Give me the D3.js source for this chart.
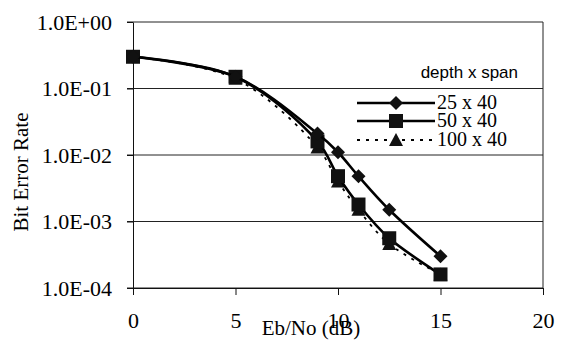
<!DOCTYPE html>
<html>
<head>
<meta charset="utf-8">
<script src="https://cdn.jsdelivr.net/npm/d3@7"></script>
<style>
  body { margin: 0; background: #fff; }
  svg { display: block; }
  .grid line { stroke: #222; stroke-width: 1; }
  .axis path, .axis line { stroke: #111; }
</style>
</head>
<body>
<div id="display"></div>
<script>

// Eb/No (dB) values where points were measured
var ebno = [0, 5, 9, 10, 11, 12.5, 15];
// bit error rate, one array per interleaver size
var ber25 = [0.30, 0.15, 0.021, 0.011, 0.0048, 0.0015, 0.0003];
var ber50 = [0.30, 0.15, 0.016, 0.0048, 0.0018, 0.00056, 0.00016];
var ber100 = [0.30, 0.14, 0.013, 0.0040, 0.0015, 0.00046, 0.00016];
var seriesNames = ['25 x 40', '50 x 40', '100 x 40'];
var xTicks = [0, 5, 10, 15, 20];
var yTicks = [1, 1e-1, 1e-2, 1e-3, 1e-4];

var SERIF = '"Liberation Serif", "Times New Roman", serif';

var width = 567,
    height = 348,
    plotLeft = 133,
    plotRight = 543,
    plotTop = 22,
    plotBottom = 288;

var svg = d3.select('#display')
    .append('svg')
    .attr('width', width)
    .attr('height', height);

var x = d3.scaleLinear().domain([0, 20]).range([plotLeft, plotRight]);
var y = d3.scaleLog().domain([1e-4, 1]).range([plotBottom, plotTop]);

function sci(d) {
  var e = Math.round(Math.log10(d));
  return '1.0E' + (e < 0 ? '-' : '+') + String(Math.abs(e)).padStart(2, '0');
}

// gridlines
svg.append('g').classed('grid', true)
  .selectAll('line')
  .data(yTicks)
  .enter()
  .append('line')
    .attr('x1', plotLeft - 6)
    .attr('x2', plotRight)
    .attr('y1', function (d) { return y(d); })
    .attr('y2', function (d) { return y(d); });

// right border
svg.append('line')
    .attr('x1', plotRight).attr('x2', plotRight)
    .attr('y1', plotTop).attr('y2', plotBottom)
    .attr('stroke', '#222');

svg.append('g').classed('axis', true)
    .attr('transform', 'translate(0,' + plotBottom + ')')
    .call(d3.axisBottom(x).tickValues(xTicks).tickSize(7).tickSizeOuter(0).tickPadding(17));

svg.append('g').classed('axis', true)
    .attr('transform', 'translate(' + plotLeft + ',0)')
    .call(d3.axisLeft(y).tickValues(yTicks).tickFormat(sci).tickSize(6).tickSizeOuter(0).tickPadding(15));

svg.selectAll('.axis .tick text')
    .style('font-family', SERIF)
    .style('font-size', '22px')
    .attr('fill', '#000');

svg.append('text')
    .attr('x', 311)
    .attr('y', 335)
    .attr('text-anchor', 'middle')
    .style('font-family', SERIF)
    .style('font-size', '21px')
    .text('Eb/No (dB)');

svg.append('text')
    .attr('transform', 'translate(28,172) rotate(-90)')
    .attr('text-anchor', 'middle')
    .style('font-family', SERIF)
    .style('font-size', '21px')
    .text('Bit Error Rate');

var symbols = {
  diamond: 'M0,-7L7,0L0,7L-7,0Z',
  square: 'M-7,-7H7V7H-7Z',
  triangle: 'M0,-7L7,6L-7,6Z'
};

var series = [
  { name: seriesNames[0], values: ber25, symbol: 'diamond', dash: null, width: 2.6 },
  { name: seriesNames[1], values: ber50, symbol: 'square', dash: null, width: 2.6 },
  { name: seriesNames[2], values: ber100, symbol: 'triangle', dash: '3,6', width: 1.8 }
];

var line = d3.line()
    .x(function (d) { return x(d[0]); })
    .y(function (d) { return y(d[1]); })
    .curve(d3.curveCatmullRom.alpha(0.5));

var plots = svg.append('g')
  .selectAll('g')
  .data(series.slice().reverse())
  .enter()
  .append('g');

plots.append('path')
    .attr('fill', 'none')
    .attr('stroke', '#000')
    .attr('stroke-width', function (d) { return d.width; })
    .attr('stroke-dasharray', function (d) { return d.dash; })
    .attr('d', function (d) { return line(d3.zip(ebno, d.values)); });

plots.selectAll('path.mark')
  .data(function (d) {
    return d.values.map(function (v, i) { return { x: ebno[i], y: v, symbol: d.symbol }; });
  })
  .enter()
  .append('path')
    .classed('mark', true)
    .attr('fill', '#111')
    .attr('transform', function (d) { return 'translate(' + x(d.x) + ',' + y(d.y) + ')'; })
    .attr('d', function (d) { return symbols[d.symbol]; });

// legend
var legend = svg.append('g');
legend.append('text')
    .attr('x', 518)
    .attr('y', 78)
    .attr('text-anchor', 'end')
    .style('font-family', '"Liberation Sans", Arial, sans-serif')
    .style('font-size', '17px')
    .text('depth x span');

var items = legend.selectAll('g')
    .data(series)
    .enter()
    .append('g')
    .attr('transform', function (d, i) { return 'translate(0,' + [103, 121, 140][i] + ')'; });
items.append('line')
    .attr('x1', 357).attr('x2', 435)
    .attr('stroke', '#000')
    .attr('stroke-width', function (d) { return d.width; })
    .attr('stroke-dasharray', function (d) { return d.dash; });
items.append('path')
    .attr('fill', '#111')
    .attr('transform', 'translate(396,0)')
    .attr('d', function (d) { return symbols[d.symbol]; });
items.append('text')
    .attr('x', 437)
    .attr('y', 6)
    .style('font-family', SERIF)
    .style('font-size', '20px')
    .text(function (d) { return d.name; });

</script>
</body>
</html>
